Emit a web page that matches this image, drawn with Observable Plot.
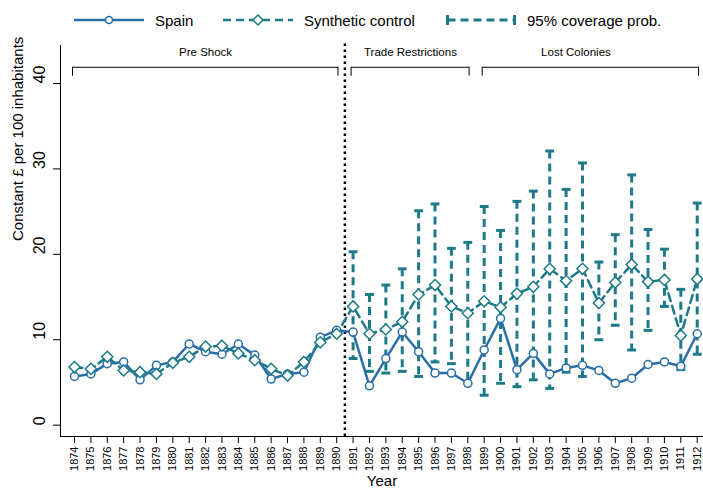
<!DOCTYPE html>
<html><head><meta charset="utf-8">
<script src="https://cdn.jsdelivr.net/npm/d3@7"></script>
<script src="https://cdn.jsdelivr.net/npm/@observablehq/plot@0.6"></script>
<style>
body{margin:0;background:#fff;font-family:"Liberation Sans",Arial,sans-serif;color:#000;}
#legend{height:40px;position:relative;font-size:15px;}
.item{position:absolute;top:9px;height:22px;display:flex;align-items:center;white-space:nowrap;}
.item svg{margin-right:11px;}
</style></head><body>
<div id="legend"></div>
<div id="chart"></div>
<script>
const years = [1874,1875,1876,1877,1878,1879,1880,1881,1882,1883,1884,1885,1886,1887,1888,1889,1890,1891,1892,1893,1894,1895,1896,1897,1898,1899,1900,1901,1902,1903,1904,1905,1906,1907,1908,1909,1910,1911,1912];
const spain = [5.7,6.0,7.2,7.4,5.3,7.0,7.4,9.5,8.6,8.3,9.5,8.2,5.4,6.0,6.2,10.3,11.1,10.9,4.6,7.8,10.9,8.6,6.1,6.1,4.9,8.8,12.5,6.5,8.4,6.0,6.7,7.0,6.4,4.9,5.5,7.1,7.4,6.9,10.7];
const synthetic = [6.8,6.6,8.0,6.4,6.2,6.0,7.3,8.0,9.2,9.3,8.4,7.6,6.6,5.8,7.4,9.7,10.7,13.9,10.7,11.2,12.1,15.3,16.4,13.9,13.1,14.5,13.8,15.4,16.2,18.3,16.9,18.3,14.3,16.7,18.8,16.8,17.0,10.5,17.1];
const ciYears = [1891,1892,1893,1894,1895,1896,1897,1898,1899,1900,1901,1902,1903,1904,1905,1906,1907,1908,1909,1910,1911,1912];
const ciUpper = [20.3,15.3,16.4,18.3,25.1,25.9,20.7,21.4,25.6,22.8,26.2,27.4,32.1,27.6,30.7,19.1,22.3,29.3,22.9,20.6,15.9,26.0];
const ciLower = [7.8,6.3,6.1,6.3,5.7,7.4,7.2,4.9,3.5,4.9,4.5,5.3,4.3,6.2,5.7,10.0,11.7,8.8,11.1,13.9,6.5,8.3];
const yTicks = [0,10,20,30,40];
const periodLabels = ["Pre Shock","Trade Restrictions","Lost Colonies"];
const periodStart = [1874,1891,1899];
const periodEnd = [1890,1898,1912];
const periodLabelYear = [1882,1894.5,1904.6];
const shockYear = 1890.5;
const seriesNames = ["Spain","Synthetic control","95% coverage prob."];
const yTitle = "Constant £ per 100 inhabitants";
const xTitle = "Year";

const spainColor = "#2a6ea8";
const synthColor = "#1d7a88";

const xDomain = [1873.146, 1912.384];
const yDomain = [-1.33, 44.45];
const bracketTop = 41.9, bracketLow = 40.85, labelLevel = 43.7, dotTop = 45.0;

const spainData = years.map((year, i) => ({year, value: spain[i]}));
const synthData = years.map((year, i) => ({year, value: synthetic[i]}));
const ciData = ciYears.map((year, i) => ({year, lo: ciLower[i], hi: ciUpper[i]}));
const periods = periodLabels.map((label, i) => ({label, start: periodStart[i], end: periodEnd[i], mid: periodLabelYear[i]}));
const periodEnds = periods.flatMap(p => [p.start - 0.12, p.end + 0.08]);

// legend
const legend = document.getElementById("legend");
const sw = [
  `<svg width="70" height="14"><line x1="0" y1="7" x2="70" y2="7" stroke="${spainColor}" stroke-width="2.5"/><circle cx="35" cy="7" r="3.5" fill="#fff" stroke="${spainColor}" stroke-width="1.5"/></svg>`,
  `<svg width="70" height="14"><line x1="0" y1="7" x2="70" y2="7" stroke="${synthColor}" stroke-width="2.5" stroke-dasharray="8,5"/><path d="M35,2 L40,7 L35,12 L30,7 Z" fill="#fff" stroke="${synthColor}" stroke-width="1.5"/></svg>`,
  `<svg width="70" height="14"><line x1="1.5" y1="7" x2="68.5" y2="7" stroke="${synthColor}" stroke-width="3" stroke-dasharray="8,5"/><line x1="1.5" y1="2" x2="1.5" y2="12" stroke="${synthColor}" stroke-width="3"/><line x1="68.5" y1="2" x2="68.5" y2="12" stroke="${synthColor}" stroke-width="3"/></svg>`
];
const lefts = [74, 223, 446];
seriesNames.forEach((name, i) => {
  const d = document.createElement("div");
  d.className = "item";
  d.style.left = lefts[i] + "px";
  d.innerHTML = sw[i] + `<span>${name}</span>`;
  legend.appendChild(d);
});

const chart = Plot.plot({
  width: 703, height: 451,
  marginLeft: 60, marginRight: 0, marginTop: 5, marginBottom: 55,
  x: {domain: xDomain, label: null},
  y: {domain: yDomain, label: null},
  style: {fontFamily: "Liberation Sans, Arial, sans-serif", color: "#000", background: "#fff", overflow: "visible"},
  marks: [
    Plot.ruleX([xDomain[0]], {stroke: "#000", strokeWidth: 1}),
    Plot.ruleY([yDomain[0]], {stroke: "#000", strokeWidth: 1}),
    Plot.axisX({ticks: years, tickFormat: d => String(d), tickRotate: -90, tickSize: 7, tickPadding: 3, fontSize: 11, label: null}),
    Plot.axisY({ticks: yTicks, tickSize: 7, tickFormat: () => "", label: null}),
    Plot.text(yTicks, {y: d => d, text: d => String(d), frameAnchor: "left", dx: -21, rotate: -90, fontSize: 16}),
    Plot.text([yTitle], {frameAnchor: "left", dx: -42, rotate: -90, fontSize: 15}),
    Plot.text([xTitle], {frameAnchor: "bottom", dy: 49, fontSize: 15}),
    // period brackets
    Plot.link(periods, {x1: d => d.start - 0.12, x2: d => d.end + 0.08, y1: bracketTop, y2: bracketTop, stroke: "#000", strokeWidth: 1}),
    Plot.ruleX(periodEnds, {y1: bracketLow, y2: bracketTop, stroke: "#000", strokeWidth: 1}),
    Plot.text(periods, {x: "mid", y: labelLevel, text: "label", fontSize: 11.5}),
    Plot.ruleX([shockYear], {y1: yDomain[0], y2: dotTop, stroke: "#000", strokeWidth: 2.5, strokeDasharray: "2.5,3.5"}),
    // CI
    Plot.ruleX(ciData, {x: "year", y1: "hi", y2: "lo", stroke: synthColor, strokeWidth: 3, strokeDasharray: "8,5"}),
    Plot.link(ciData, {x1: d => d.year - 0.27, x2: d => d.year + 0.27, y1: "hi", y2: "hi", stroke: synthColor, strokeWidth: 3}),
    Plot.link(ciData, {x1: d => d.year - 0.27, x2: d => d.year + 0.27, y1: "lo", y2: "lo", stroke: synthColor, strokeWidth: 3}),
    // series
    Plot.line(spainData, {x: "year", y: "value", stroke: spainColor, strokeWidth: 2.5}),
    Plot.line(synthData, {x: "year", y: "value", stroke: synthColor, strokeWidth: 2.5, strokeDasharray: "8,5"}),
    Plot.dot(spainData, {x: "year", y: "value", r: 4, stroke: spainColor, fill: "#fff", strokeWidth: 1.5}),
    Plot.dot(synthData, {x: "year", y: "value", symbol: "diamond2", r: 5, stroke: synthColor, fill: "#fff", strokeWidth: 1.5})
  ]
});
document.getElementById("chart").appendChild(chart);
</script>
</body></html>
